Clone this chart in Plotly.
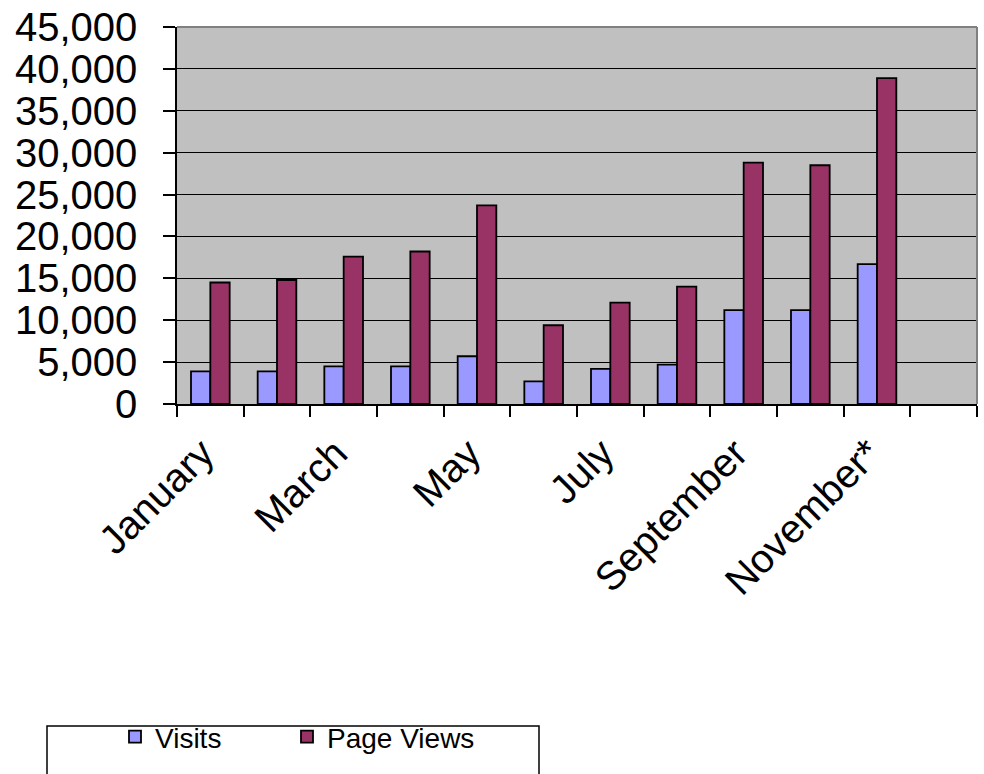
import plotly.graph_objects as go

months = ["January", "February", "March", "April", "May", "June",
          "July", "August", "September", "October", "November*", "December"]
visits = [3900, 3900, 4500, 4500, 5700, 2700, 4200, 4700, 11200, 11200, 16700, None]
page_views = [14500, 14800, 17600, 18200, 23700, 9400, 12100, 14000, 28800, 28500, 38900, None]
y_ticks = [0, 5000, 10000, 15000, 20000, 25000, 30000, 35000, 40000, 45000]

FONT = "Arial, Liberation Sans, sans-serif"
x_pos = list(range(len(months)))
label_pos = [p - 0.12 for p in x_pos[::2]]
label_txt = months[::2]

W, H = 984, 774

fig = go.Figure()
fig.add_trace(go.Bar(x=x_pos, y=visits, name="Visits", legend="legend",
                     marker=dict(color="#9999FF", line=dict(color="black", width=1.8))))
fig.add_trace(go.Bar(x=x_pos, y=page_views, name="Page Views", legend="legend2",
                     marker=dict(color="#993366", line=dict(color="black", width=1.8))))

leg_common = dict(orientation="h", xref="container", yref="container",
                  y=1 - 737 / H, xanchor="left", yanchor="middle",
                  font=dict(size=28, family=FONT),
                  bgcolor="rgba(0,0,0,0)", borderwidth=0)

fig.update_layout(
    width=W, height=H,
    margin=dict(l=177, r=7, t=27, b=370, autoexpand=False),
    paper_bgcolor="white", plot_bgcolor="#C0C0C0",
    barmode="group", bargap=0.42, bargroupgap=0,
    font=dict(family=FONT, color="black"),
    showlegend=True,
    legend=dict(x=115 / W, **leg_common),
    legend2=dict(x=287 / W, **leg_common),
    xaxis=dict(range=[-0.5, len(months) - 0.5], tickmode="array",
               tickvals=label_pos, ticktext=label_txt, tickangle=-45,
               ticks="", showgrid=False, zeroline=False, automargin=False,
               showline=True, linecolor="black", linewidth=1.5,
               tickfont=dict(size=40, family=FONT), ticklabelstandoff=8,
               ticklabeloverflow="allow",
               minor=dict(tickmode="linear", tick0=-0.5, dtick=1, ticks="outside",
                          ticklen=11, tickwidth=1.5, tickcolor="black", showgrid=False)),
    yaxis=dict(range=[0, 45000], tickmode="array", tickvals=y_ticks,
               tickformat=",d", ticks="outside", ticklen=12, tickwidth=1.5,
               tickcolor="black", showgrid=True, gridcolor="black", gridwidth=1.4,
               zeroline=False, showline=True, linecolor="black", linewidth=1.5,
               automargin=False,
               tickfont=dict(size=40, family=FONT), ticklabelstandoff=18,
               ticklabeloverflow="allow"),
    shapes=[
        dict(type="line", xref="paper", yref="paper", x0=0, x1=1, y0=1, y1=1,
             line=dict(color="#808080", width=2), layer="above"),
        dict(type="line", xref="paper", yref="paper", x0=1, x1=1, y0=0, y1=1,
             line=dict(color="#808080", width=2), layer="above"),
        dict(type="rect", xref="paper", yref="paper", x0=-0.1625, x1=0.4525,
             y0=-1.05, y1=-0.854, line=dict(color="black", width=1.5),
             fillcolor="rgba(0,0,0,0)", layer="above"),
    ],
)

fig.write_html("out.html", config={"displayModeBar": False},
               post_script="document.body.style.margin='0';document.body.style.overflow='hidden';")
